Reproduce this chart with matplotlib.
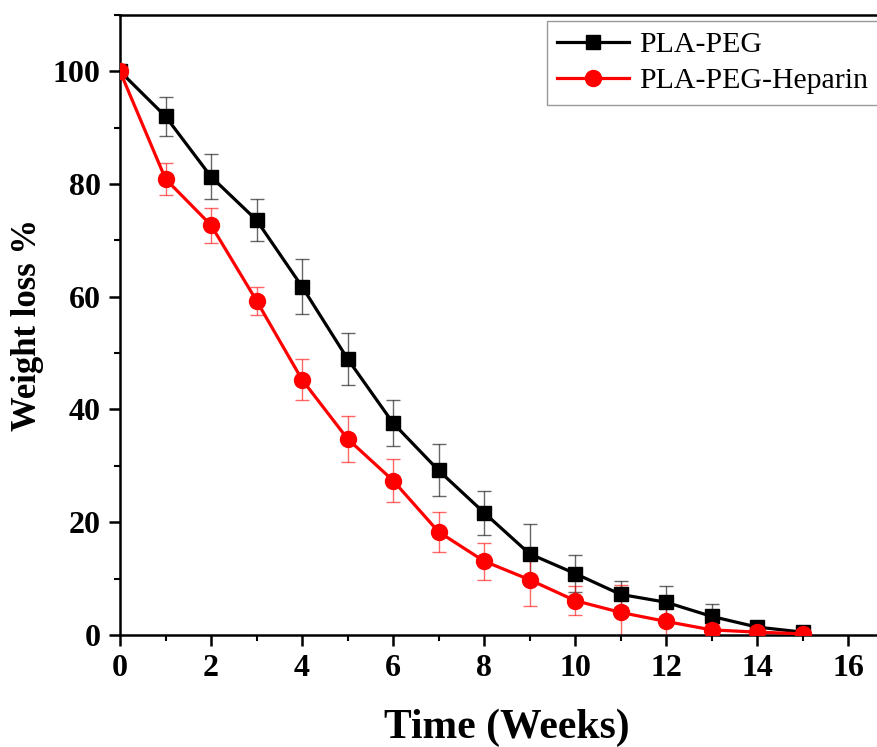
import numpy as np
import matplotlib.pyplot as plt
from matplotlib.ticker import MultipleLocator

# degradation data, weeks vs remaining weight %
weeks = [0, 1, 2, 3, 4, 5, 6, 7, 8, 9, 10, 11, 12, 13, 14, 15]
pla_peg = [100, 92.0, 81.3, 73.6, 61.8, 49.0, 37.6, 29.2, 21.7, 14.4, 10.9, 7.2, 5.8, 3.3, 1.4, 0.5]
pla_peg_err = [0, 3.5, 4.0, 3.7, 4.9, 4.6, 4.1, 4.6, 3.9, 5.2, 3.2, 2.3, 2.8, 2.2, 0.5, 0.3]
pla_peg_hep = [100, 80.9, 72.7, 59.3, 45.3, 34.8, 27.4, 18.3, 13.1, 9.8, 6.1, 4.0, 2.4, 0.9, 0.5, 0.2]
pla_peg_hep_err = [0, 2.8, 3.1, 2.5, 3.7, 4.1, 3.9, 3.5, 3.3, 4.7, 2.6, 4.9, 3.0, 1.0, 0.4, 0.2]

plt.rcParams['font.family'] = 'Liberation Serif'

fig = plt.figure(figsize=(8.78, 7.47), dpi=100)
ax = fig.add_axes([0.1367, 0.15, 0.881, 0.83])

ax.errorbar(weeks, pla_peg, yerr=pla_peg_err, fmt='none', ecolor='black',
            elinewidth=1, capsize=5, capthick=1, alpha=0.6, zorder=2)
ax.errorbar(weeks, pla_peg_hep, yerr=pla_peg_hep_err, fmt='none', ecolor='red',
            elinewidth=1, capsize=5, capthick=1, alpha=0.6, zorder=2)
ax.plot(weeks, pla_peg, color='black', marker='s', markersize=10.5, lw=2.3,
        label='PLA-PEG', zorder=3)
ax.plot(weeks, pla_peg_hep, color='red', marker='o', markersize=11.5, lw=2.3,
        label='PLA-PEG-Heparin', zorder=4)

ax.set_xlim(0, 17)
ax.set_ylim(0, 110)
ax.xaxis.set_major_locator(MultipleLocator(2))
ax.xaxis.set_minor_locator(MultipleLocator(1))
ax.yaxis.set_major_locator(MultipleLocator(20))
ax.yaxis.set_minor_locator(MultipleLocator(10))
ax.tick_params(which='major', direction='out', length=8, width=1.8, labelsize=23, pad=6)
ax.tick_params(which='minor', direction='out', length=4, width=1.5)
for lab in ax.get_xticklabels() + ax.get_yticklabels():
    lab.set_fontweight('bold')
for sp in ax.spines.values():
    sp.set_linewidth(1.8)

ax.set_xlabel('Time (Weeks)', fontsize=30, fontweight='bold', labelpad=18)
ax.set_ylabel('Weight loss %', fontsize=25, fontweight='bold', labelpad=6)

leg = ax.legend(loc='upper left', bbox_to_anchor=(0.552, 0.99), fontsize=21.5,
                frameon=True, fancybox=False, edgecolor='gray', borderpad=0.35,
                labelspacing=0.3, handlelength=2.4, handletextpad=0.35,
                borderaxespad=0)
leg.get_frame().set_linewidth(1)

fig.savefig('out.png', dpi=100)
